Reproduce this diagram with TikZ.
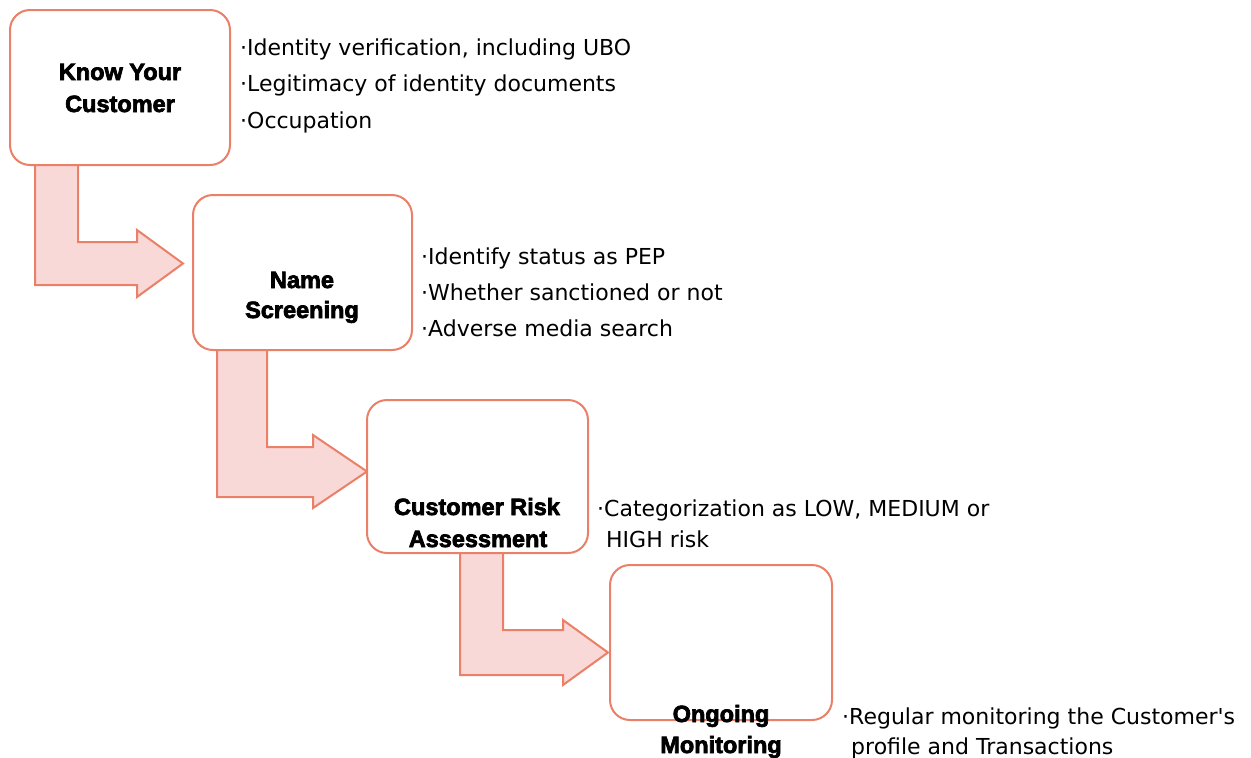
\documentclass[tikz,border=0pt]{standalone}
\usepackage{fontspec}
\setmainfont{DejaVu Sans}
\newfontfamily\heavyfont{Liberation Sans Bold}[FakeBold=3]
\definecolor{salmon}{HTML}{EA8068}
\definecolor{pinkfill}{HTML}{F9D8D8}
\tikzset{
  stepbox/.style={draw=salmon, line width=2pt, fill=white, rounded corners=20pt},
  blockarrow/.style={draw=salmon, line width=2pt, fill=pinkfill, line join=miter},
  boxlabel/.style={anchor=base, inner sep=0pt, font=\heavyfont\fontsize{23.5}{23.5}\selectfont},
  bullet/.style={anchor=base west, inner sep=0pt, font=\fontsize{22}{22}\selectfont},
}
\begin{document}
\begin{tikzpicture}[x=1pt,y=-1pt]
\useasboundingbox[fill=white] (0,0) rectangle (1251,758);

% block arrows (drawn below the boxes)
\draw[blockarrow] (35,160) -- (78,160) -- (78,242) -- (137,242) -- (137,230) -- (183,263.5) -- (137,297) -- (137,285) -- (35,285) -- cycle;
\draw[blockarrow] (217,345) -- (267,345) -- (267,447) -- (313,447) -- (313,435) -- (367,471.5) -- (313,508) -- (313,497) -- (217,497) -- cycle;
\draw[blockarrow] (460,548) -- (503,548) -- (503,630) -- (563,630) -- (563,620) -- (608,652.5) -- (563,685) -- (563,675) -- (460,675) -- cycle;

% boxes
\path[stepbox] (10,10) rectangle (230,165) coordinate (kycbox);
\path[stepbox] (193,195) rectangle (412,350) coordinate (nsbox);
\path[stepbox] (367,400) rectangle (588,553) coordinate (crabox);
\path[stepbox] (610,565) rectangle (832,720) coordinate (ombox);

% box labels
\node[boxlabel] (kyc1) at (120,80) {Know Your};
\node[boxlabel] (kyc2) at (120,112) {Customer};
\node[boxlabel] (ns1) at (302,288) {Name};
\node[boxlabel] (ns2) at (302,318) {Screening};
\node[boxlabel] (cra1) at (477,515) {Customer Risk};
\node[boxlabel] (cra2) at (478,547) {Assessment};
\node[boxlabel] (om1) at (721,722) {Ongoing};
\node[boxlabel] (om2) at (721,753) {Monitoring};

% bullet texts
\node[bullet] (b11) at (240,55) {·Identity verification, including UBO};
\node[bullet] (b12) at (240,91.5) {·Legitimacy of identity documents};
\node[bullet] (b13) at (240,128) {·Occupation};
\node[bullet] (b21) at (421,264) {·Identify status as PEP};
\node[bullet] (b22) at (421,300) {·Whether sanctioned or not};
\node[bullet] (b23) at (421,336) {·Adverse media search};
\node[bullet] (b31) at (597,516) {·Categorization as LOW, MEDIUM or};
\node[bullet] (b32) at (606,547) {HIGH risk};
\node[bullet] (b41) at (842,724) {·Regular monitoring the Customer\textquotesingle s};
\node[bullet] (b42) at (851,754) {profile and Transactions};
\end{tikzpicture}
\end{document}
